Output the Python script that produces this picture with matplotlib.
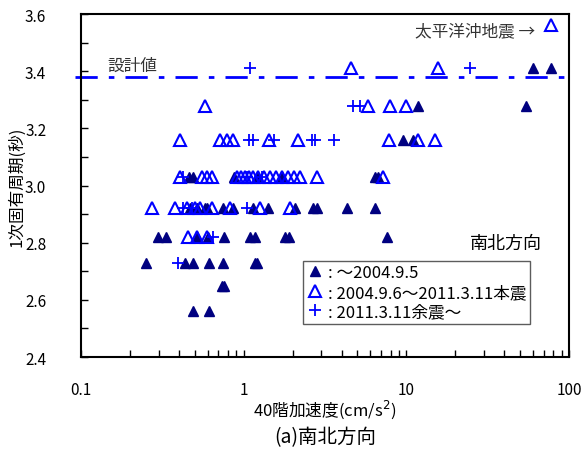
import matplotlib
matplotlib.use("Agg")
import matplotlib.pyplot as plt
from matplotlib.lines import Line2D
from matplotlib.ticker import MultipleLocator, FixedLocator, FixedFormatter, LogLocator, NullFormatter

plt.rcParams['font.family'] = ['Noto Sans CJK JP', 'DejaVu Sans']

# ▲ : ~2004.9.5
a_x = [60, 77.7,
       11.8, 54.3,
       9.53, 11.0,
       0.46, 0.488, 0.872, 1.21, 1.72, 6.42, 6.70,
       0.467, 0.52, 0.58, 0.595, 0.75, 0.86, 1.14, 1.41, 2.07, 2.67, 2.82, 4.30, 6.42,
       0.297, 0.333, 0.52, 0.604, 0.757, 1.09, 1.17, 1.79, 1.90, 7.6,
       0.251, 0.436, 0.488, 0.61, 0.75, 1.17, 1.20,
       0.74, 0.76,
       0.488, 0.61]
a_y = [3.41, 3.41,
       3.28, 3.28,
       3.16, 3.16,
       3.03, 3.03, 3.03, 3.03, 3.03, 3.03, 3.03,
       2.92, 2.92, 2.92, 2.92, 2.92, 2.92, 2.92, 2.92, 2.92, 2.92, 2.92, 2.92, 2.92,
       2.82, 2.82, 2.82, 2.82, 2.82, 2.82, 2.82, 2.82, 2.82, 2.82,
       2.73, 2.73, 2.73, 2.73, 2.73, 2.73, 2.73,
       2.65, 2.65,
       2.56, 2.56]

# △ : 2004.9.6~2011.3.11
b_x = [77.7,
       4.56, 15.6,
       0.578, 5.81, 7.93, 9.95,
       0.406, 0.714, 0.789, 0.859, 1.43, 2.16, 7.82, 11.8, 15.0,
       0.406, 0.554, 0.595, 0.639, 0.91, 0.964, 1.02, 1.08, 1.14, 1.23, 1.33, 1.45,
       1.58, 1.72, 1.87, 2.03, 2.22, 2.82, 7.20,
       0.273, 0.378, 0.448, 0.50, 0.54, 0.64, 0.82, 1.26, 1.92,
       0.455, 0.516, 0.594]
b_y = [3.56,
       3.41, 3.41,
       3.28, 3.28, 3.28, 3.28,
       3.16, 3.16, 3.16, 3.16, 3.16, 3.16, 3.16, 3.16, 3.16,
       3.03, 3.03, 3.03, 3.03, 3.03, 3.03, 3.03, 3.03, 3.03, 3.03, 3.03, 3.03,
       3.03, 3.03, 3.03, 3.03, 3.03, 3.03, 3.03,
       2.92, 2.92, 2.92, 2.92, 2.92, 2.92, 2.92, 2.92, 2.92,
       2.82, 2.82, 2.82]

# + : 2011.3.11 aftershocks~
c_x = [1.09, 24.6,
       4.70, 5.19,
       1.08, 1.14, 1.54, 2.63, 2.74, 3.59,
       0.424, 1.05, 1.29,
       0.424, 0.48, 1.05,
       0.65,
       0.395]
c_y = [3.41, 3.41,
       3.28, 3.28,
       3.16, 3.16, 3.16, 3.16, 3.16, 3.16,
       3.03, 3.03, 3.03,
       2.92, 2.92, 2.92,
       2.82,
       2.73]

design_value = 3.38
legend_labels = [': ～2004.9.5', ': 2004.9.6～2011.3.11本震', ': 2011.3.11余震～']

navy = '#000080'
blue = '#0000ff'

fig = plt.figure(figsize=(5.81, 4.56), dpi=100)
ax = fig.add_axes([0.1394, 0.2149, 0.8399, 0.7521])

ax.plot(a_x, a_y, linestyle='none', marker='^', ms=6.5, color=navy, zorder=3)
ax.plot(b_x, b_y, linestyle='none', marker='^', ms=8.5, mfc='none', mec=blue, mew=1.5, zorder=3)
ax.plot(c_x, c_y, linestyle='none', marker='+', ms=9, color=blue, mew=1.3, zorder=3)

ax.axhline(design_value, color=blue, lw=2, dashes=[8, 4, 2, 4], zorder=2, clip_on=False,
           xmin=-0.012, xmax=1.0)

ax.set_xscale('log')
ax.set_xlim(0.1, 100)
ax.set_ylim(2.4, 3.6)

ax.yaxis.set_major_locator(MultipleLocator(0.2))
ax.yaxis.set_minor_locator(MultipleLocator(0.1))
ax.yaxis.set_major_formatter(plt.FuncFormatter(lambda v, p: f'{v:.1f}'))
ax.xaxis.set_major_locator(FixedLocator([0.1, 1, 10, 100]))
ax.xaxis.set_major_formatter(FixedFormatter(['0.1', '1', '10', '100']))
ax.xaxis.set_minor_locator(LogLocator(base=10, subs=range(2, 10)))
ax.xaxis.set_minor_formatter(NullFormatter())

ax.tick_params(which='both', direction='in', top=False, right=False, length=5, width=1)
ax.tick_params(axis='y', which='both', pad=25, labelsize=11)
ax.tick_params(axis='x', which='both', pad=17, labelsize=11)
for s in ax.spines.values():
    s.set_linewidth(1.5)

ax.set_xlabel('40階加速度(cm/s$^2$)', fontsize=12, labelpad=0)
ax.set_ylabel('1次固有周期(秒)', fontsize=12, labelpad=0)

ax.text(0.145, 3.392, '設計値', fontsize=12, color='#333333', va='bottom', ha='left')
ax.text(62, 3.54, '太平洋沖地震 →', fontsize=12, color='#333333', va='center', ha='right')
ax.text(68, 2.80, '南北方向', fontsize=13, color='black', va='center', ha='right')

handles = [Line2D([], [], linestyle='none', marker='^', ms=6.5, color=navy),
           Line2D([], [], linestyle='none', marker='^', ms=8.5, mfc='none', mec=blue, mew=1.5),
           Line2D([], [], linestyle='none', marker='+', ms=9, color=blue, mew=1.3)]
leg = ax.legend(handles, legend_labels, loc='upper left', bbox_to_anchor=(0.455, 0.28),
                fontsize=12, frameon=True, fancybox=False, edgecolor='#333333',
                borderpad=0.2, labelspacing=0.15, handlelength=1.0, handletextpad=0.3,
                borderaxespad=0)
leg.get_frame().set_linewidth(1.0)

fig.text(0.56, 0.04, '(a)南北方向', fontsize=14, ha='center', va='center')

fig.savefig('out.png', dpi=100)
